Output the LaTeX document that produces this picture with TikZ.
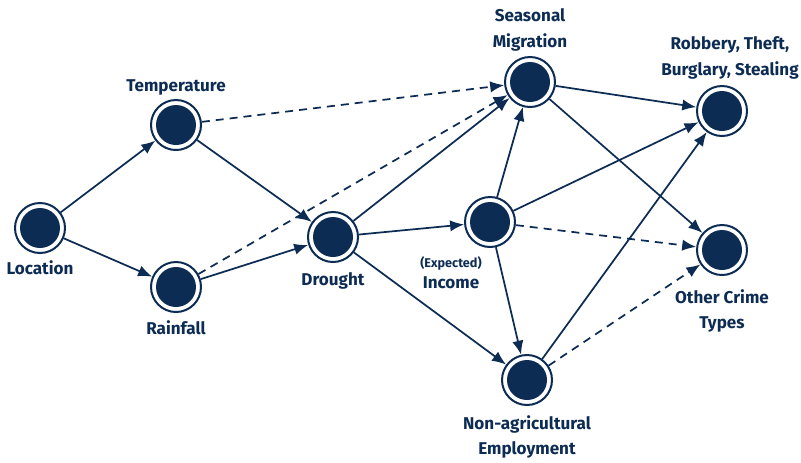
\documentclass[tikz,border=0pt]{standalone}
\usepackage{fontspec}
\setmainfont{Fira Sans}
\usetikzlibrary{arrows.meta}
\definecolor{navy}{HTML}{0D2C54}
\tikzset{
	cnode/.style={circle,draw=navy,line width=1.5pt,fill=white,minimum size=37.5pt,inner sep=0pt,
		path picture={\fill[navy] (path picture bounding box.center) circle (15pt);}},
	lbl/.style={text=navy,font=\fontsize{12.8}{19}\selectfont\bfseries,align=center},
	edge/.style={-{Latex[length=10.5pt,width=8.5pt]},navy,line width=1.3pt},
	dedge/.style={edge,dash pattern=on 6pt off 4.5pt}
}
\begin{document}
\begin{tikzpicture}[x=0.75pt,y=-0.75pt]
	\useasboundingbox (0,0) rectangle (801,462);
	\node[cnode] (loc) at (40, 228) {};
	\node[cnode] (temp) at (176, 125) {};
	\node[cnode] (rain) at (176, 287) {};
	\node[cnode] (drought) at (333, 237) {};
	\node[cnode] (migr) at (530, 82) {};
	\node[cnode] (inc) at (490, 222) {};
	\node[cnode] (empl) at (527, 380) {};
	\node[cnode] (rob) at (722, 111) {};
	\node[cnode] (other) at (722, 250) {};
	
	\node[lbl] (loclbl) at (40, 268) {Location};
	\node[lbl] (templbl) at (176, 87) {Temperature};
	\node[lbl] (rainlbl) at (176, 328) {Rainfall};
	\node[lbl] (droughtlbl) at (333, 281) {Drought};
	\node[lbl] (migrlbl) at (530, 30) {Seasonal\\Migration};
	\node[lbl] (explbl) at (451, 263) {\fontsize{9.5}{12}\selectfont(Expected)};
	\node[lbl] (inclbl) at (451, 283) {Income};
	\node[lbl] (empllbl) at (527, 437) {Non-agricultural\\Employment};
	\node[lbl] (roblbl) at (730, 58) {Robbery, Theft,\\Burglary, Stealing};
	\node[lbl] (otherlbl) at (722, 311) {Other Crime\\Types};
	
	\draw[edge] (loc) -- (temp);
	\draw[edge] (loc) -- (rain);
	\draw[edge] (temp) -- (drought);
	\draw[edge] (rain) -- (drought);
	\draw[dedge] (temp) -- (migr);
	\draw[dedge] (rain) -- (migr);
	\draw[edge] (drought) -- (migr);
	\draw[edge] (drought) -- (inc);
	\draw[edge] (drought) -- (empl);
	\draw[edge] (inc) -- (migr);
	\draw[edge] (inc) -- (rob);
	\draw[dedge] (inc) -- (other);
	\draw[edge] (inc) -- (empl);
	\draw[edge] (migr) -- (rob);
	\draw[edge] (migr) -- (other);
	\draw[edge] (empl) -- (rob);
	\draw[dedge] (empl) -- (other);
\end{tikzpicture}
\end{document}
